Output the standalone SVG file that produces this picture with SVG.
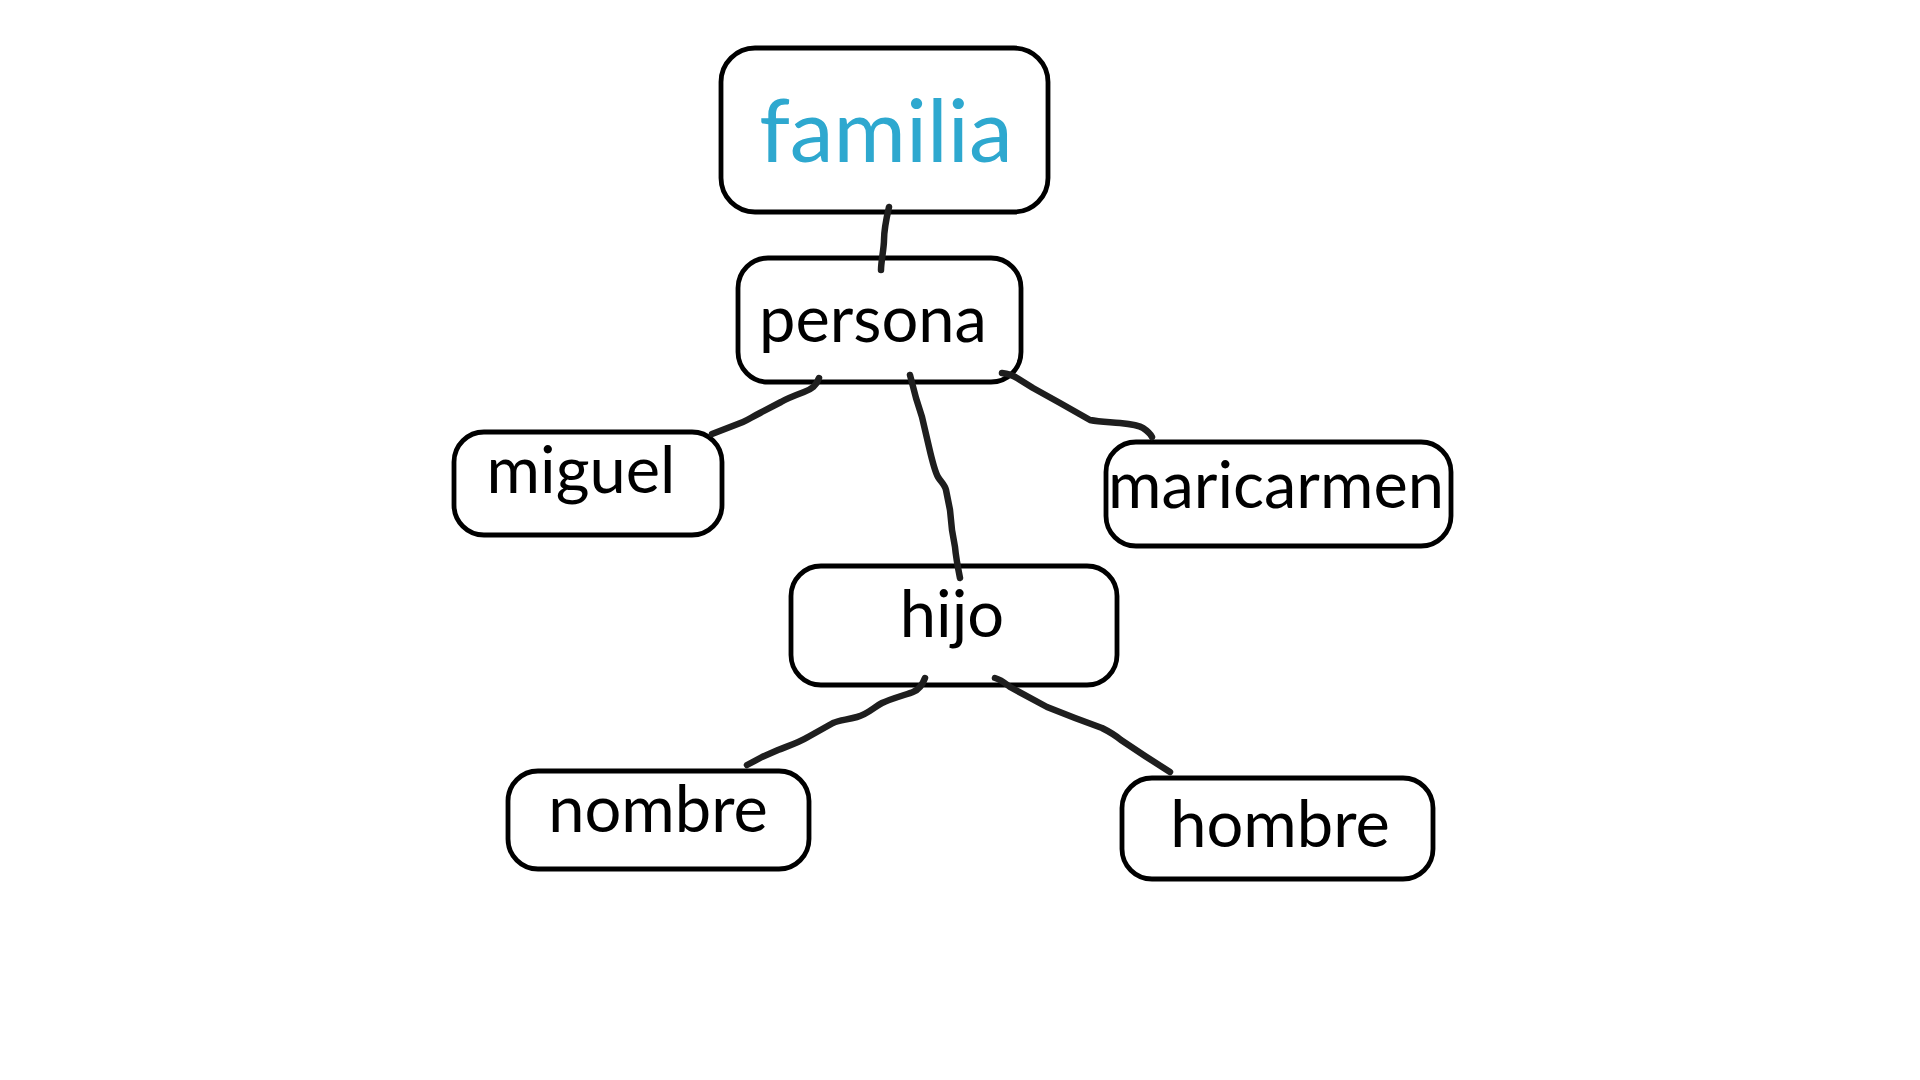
<svg xmlns="http://www.w3.org/2000/svg" width="1920" height="1080" viewBox="0 0 1920 1080">
<style>
.box{fill:#fff;stroke:#000;stroke-width:4.8}
.t{font-family:Lato,"Open Sans",sans-serif;font-size:65px;fill:#000;text-anchor:middle}
.title{font-size:88px;fill:#2ea8cf}
.c{fill:none;stroke:#1e1e1e;stroke-width:6.5;stroke-linecap:round;stroke-linejoin:round}
</style>
<rect width="1920" height="1080" fill="#fff"/>
<g id="familia"><rect class="box" x="721" y="48" width="327" height="164" rx="34"/><text class="t title" x="886" y="162">familia</text></g>
<g id="persona"><rect class="box" x="738" y="258" width="283" height="124" rx="30"/><text class="t" x="873" y="342">persona</text></g>
<g id="miguel"><rect class="box" x="454" y="432" width="268" height="103" rx="30"/><text class="t" x="581" y="493">miguel</text></g>
<g id="maricarmen"><rect class="box" x="1106" y="442" width="345" height="104" rx="30"/><text class="t" x="1276" y="508">maricarmen</text></g>
<g id="hijo"><rect class="box" x="791" y="566" width="326" height="119" rx="30"/><text class="t" x="952" y="637">hijo</text></g>
<g id="nombre"><rect class="box" x="508" y="771" width="301" height="98" rx="30"/><text class="t" x="658" y="832">nombre</text></g>
<g id="hombre"><rect class="box" x="1122" y="778" width="311" height="101" rx="30"/><text class="t" x="1280" y="847">hombre</text></g>
<g id="connectors">
<path class="c" d="M889,207 C886,220 884,232 884,240 S881,262 881,270"/>
<path class="c" d="M819,378 C816,386 812,389 804,392 S786,399 781,402 L760,413 C752,417 748,420 743,422 L712,434"/>
<path class="c" d="M910,375 L916,398 L922,417 L929,447 C932,460 935,472 938,477 S945,485 946,490 L950,510 L952,530 L955,547 C956,558 958,568 960,578"/>
<path class="c" d="M1002,373 C1010,374 1014,376 1017,378 L1033,388 L1060,403 L1090,420 C1100,422 1110,422 1120,423 S1140,426 1143,428 S1150,433 1152,437"/>
<path class="c" d="M925,678 C922,686 918,690 913,692 S890,699 882,703 S868,714 857,717 S840,720 833,723 L808,737 C798,743 788,746 778,750 L762,757 L747,765"/>
<path class="c" d="M995,678 C1002,680 1006,684 1010,687 L1047,707 L1075,718 L1102,728 C1108,731 1115,735 1121,740 L1145,756 L1170,772"/>
</g>
</svg>
